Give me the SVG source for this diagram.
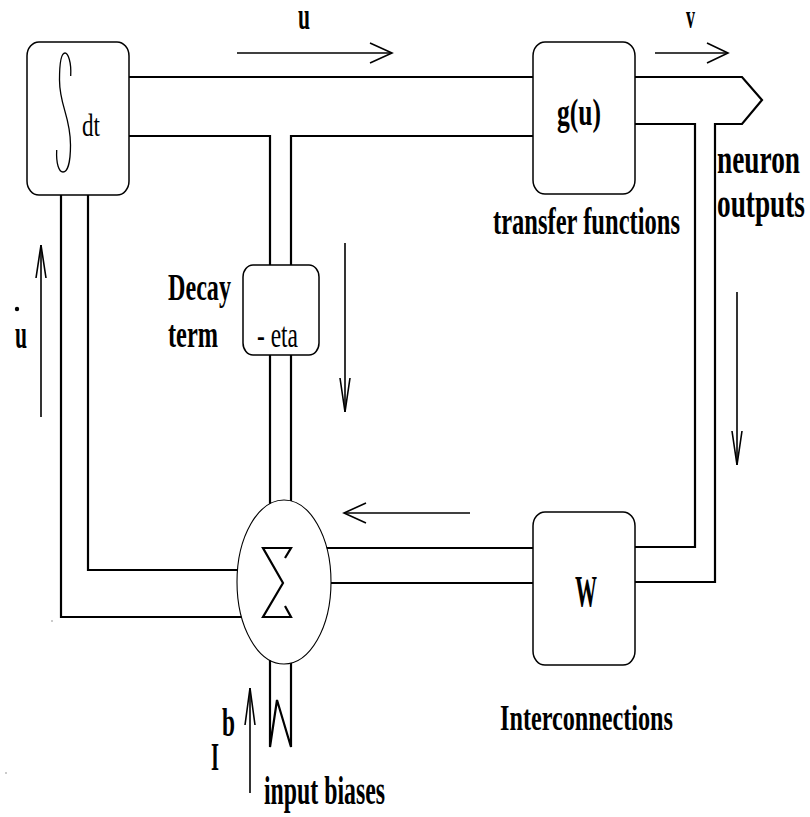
<svg xmlns="http://www.w3.org/2000/svg" width="810" height="817" viewBox="0 0 810 817">
  <style>
    .bg { fill: #ffffff; }
    .box { fill: #ffffff; stroke: #000; stroke-width: 1.5; }
    .wire { fill: none; stroke: #000; stroke-width: 2.2; stroke-linejoin: miter; }
    .thin { fill: none; stroke: #000; stroke-width: 1.3; }
    .arr { fill: none; stroke: #000; stroke-width: 1.6; }
    .lbl { font-family: "Liberation Serif", "Times New Roman", serif; font-weight: bold; fill: #000; }
    .reg { font-family: "Liberation Serif", "Times New Roman", serif; font-weight: normal; fill: #000; }
  </style>
  <rect class="bg" x="0" y="0" width="810" height="817"/>

  <!-- signal wires -->
  <g id="connectors">
    <!-- u bus: integrator to g(u) -->
    <polyline class="wire" points="129,77 533,77"/>
    <polyline class="wire" points="129,136 270,136 270,265"/>
    <polyline class="wire" points="533,136 291,136 291,265"/>
    <!-- decay term down to summer -->
    <line class="wire" x1="270" y1="355" x2="270" y2="504"/>
    <line class="wire" x1="291" y1="355" x2="291" y2="501"/>
    <!-- u-dot feedback from summer to integrator -->
    <polyline class="wire" points="61,195 61,617 242,617"/>
    <polyline class="wire" points="88,195 88,570 238,570"/>
    <!-- outputs v, fanned to W -->
    <polyline class="wire" points="635,77 742,77 762,100 742,124 715,124 715,582 635,582"/>
    <polyline class="wire" points="635,124 695,124 695,547 635,547"/>
    <!-- W back into summer -->
    <line class="wire" x1="533" y1="548" x2="326" y2="548"/>
    <line class="wire" x1="533" y1="583" x2="331" y2="583"/>
    <!-- input biases entry -->
    <polyline class="wire" points="270,660 270,747 277,700 291,747 291,663"/>
  </g>

  <!-- direction arrows -->
  <g id="arrows">
    <line class="arr" x1="237" y1="53" x2="392" y2="53"/>
    <polyline class="arr" points="370,43 392,53 370,63"/>
    <line class="arr" x1="655" y1="53" x2="728" y2="53"/>
    <polyline class="arr" points="707,43 728,53 707,63"/>
    <line class="arr" x1="345" y1="243" x2="345" y2="412"/>
    <polyline class="arr" points="340,378 345,412 350,378"/>
    <line class="arr" x1="737" y1="292" x2="737" y2="465"/>
    <polyline class="arr" points="732,431 737,465 742,431"/>
    <line class="arr" x1="41" y1="417" x2="41" y2="245"/>
    <polyline class="arr" points="36,278 41,245 46,278"/>
    <line class="arr" x1="470" y1="513" x2="344" y2="513"/>
    <polyline class="arr" points="366,503 344,513 366,523"/>
    <line class="arr" x1="250" y1="793" x2="250" y2="688"/>
    <polyline class="arr" points="245,725 250,688 255,725"/>
  </g>

  <!-- integrator -->
  <g id="integrator">
    <rect class="box" x="27" y="42" width="102" height="153" rx="12" ry="14"/>
    <path class="thin" d="M70.7,76 C71.5,62 68,53 65,53 C61,53 59.5,62 59.5,80 C59.5,106 70.5,116 70.5,145 C70.5,164 67,172 63,172 C59,172 56,164 56.7,150"/>
    <text class="reg" x="82" y="136" font-size="31" textLength="18" lengthAdjust="spacingAndGlyphs">dt</text>
  </g>

  <!-- transfer functions -->
  <g id="transfer">
    <rect class="box" x="533" y="42" width="102" height="152" rx="12" ry="14"/>
    <text class="lbl" x="557" y="125" font-size="38" textLength="44" lengthAdjust="spacingAndGlyphs">g(u)</text>
  </g>

  <!-- decay term -->
  <g id="decay">
    <rect class="box" x="243" y="265" width="76" height="90" rx="10" ry="12"/>
    <text class="reg" x="257" y="347" font-size="35" textLength="41" lengthAdjust="spacingAndGlyphs">- eta</text>
  </g>

  <!-- summing junction -->
  <g id="summer">
    <ellipse cx="284" cy="582" rx="47" ry="82" fill="#fff" stroke="#000" stroke-width="1.1"/>
    <polyline class="wire" points="285,558 291,548 263,548 283,583 263,617 291,617 285,606"/>
  </g>

  <!-- interconnection weights -->
  <g id="weights">
    <rect class="box" x="533" y="512" width="102" height="153" rx="12" ry="14"/>
    <text class="lbl" x="575" y="606" font-size="44" textLength="22" lengthAdjust="spacingAndGlyphs">W</text>
  </g>

  <!-- labels -->
  <g id="labels">
    <text class="lbl" x="298" y="29" font-size="37" textLength="12" lengthAdjust="spacingAndGlyphs">u</text>
    <text class="lbl" x="686" y="28" font-size="33" textLength="9" lengthAdjust="spacingAndGlyphs">v</text>
    <text class="lbl" x="717" y="173" font-size="42" textLength="83" lengthAdjust="spacingAndGlyphs">neuron</text>
    <text class="lbl" x="717" y="217" font-size="42" textLength="88" lengthAdjust="spacingAndGlyphs">outputs</text>
    <text class="lbl" x="493" y="234" font-size="38" textLength="187" lengthAdjust="spacingAndGlyphs">transfer functions</text>
    <text class="lbl" x="168" y="300" font-size="38" textLength="63" lengthAdjust="spacingAndGlyphs">Decay</text>
    <text class="lbl" x="168" y="347" font-size="38" textLength="50" lengthAdjust="spacingAndGlyphs">term</text>
    <circle cx="17" cy="309" r="2.2" fill="#000"/>
    <text class="lbl" x="15" y="348" font-size="43" textLength="12" lengthAdjust="spacingAndGlyphs">u</text>
    <text class="lbl" x="500" y="730" font-size="35" textLength="173" lengthAdjust="spacingAndGlyphs">Interconnections</text>
    <text class="lbl" x="211" y="770" font-size="41" textLength="8" lengthAdjust="spacingAndGlyphs">I</text>
    <text class="lbl" x="222" y="736" font-size="41" textLength="13" lengthAdjust="spacingAndGlyphs">b</text>
    <text class="lbl" x="264" y="804" font-size="40" textLength="121" lengthAdjust="spacingAndGlyphs">input biases</text>
    <circle cx="52" cy="621" r="0.8" fill="#888"/>
    <circle cx="6" cy="773" r="0.8" fill="#888"/>
  </g>
</svg>
